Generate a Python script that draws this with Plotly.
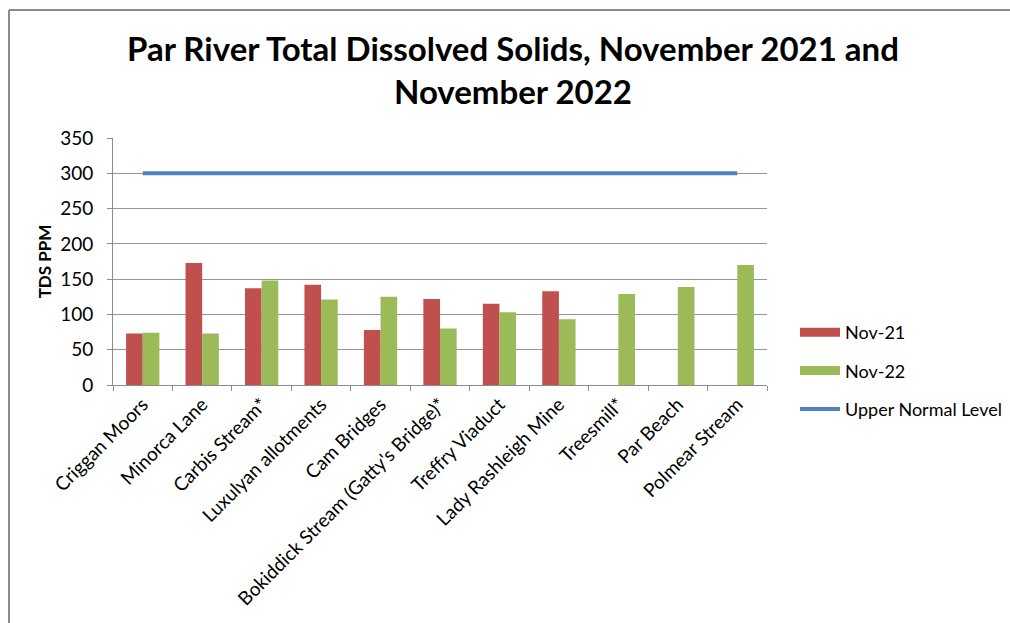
import plotly.graph_objects as go

sites = [
    "Criggan Moors", "Minorca Lane", "Carbis Stream*", "Luxulyan allotments",
    "Cam Bridges", "Bokiddick Stream (Gatty's Bridge)*", "Treffry Viaduct",
    "Lady Rashleigh Mine", "Treesmill*", "Par Beach", "Polmear Stream",
]
nov21 = [73, 173, 137, 142, 78, 122, 115, 133, None, None, None]
nov22 = [74, 73, 148, 121, 125, 80, 103, 93, 129, 139, 170]
upper_normal = [300] * len(sites)
y_ticks = [0, 50, 100, 150, 200, 250, 300, 350]

FONT = "Lato"
RED = "#C0504D"
GREEN = "#9BBB59"
BLUE = "#4F81BD"
AXIS_GREY = "#8c8c8c"

fig = go.Figure()
fig.add_trace(go.Bar(x=sites, y=nov21, name="Nov-21", marker_color=RED,
                     marker_line_width=0, showlegend=False))
fig.add_trace(go.Bar(x=sites, y=nov22, name="Nov-22", marker_color=GREEN,
                     marker_line_width=0, showlegend=False))
fig.add_trace(go.Scatter(x=sites, y=upper_normal, name="Upper Normal Level",
                         mode="lines", line=dict(color=BLUE, width=4),
                         legendgroup="c", legendrank=3))

# wide flat swatches for the bar series in the legend
for name, color, rank, grp in [("Nov-21", RED, 1, "a"), ("Nov-22", GREEN, 2, "b")]:
    fig.add_trace(go.Scatter(x=[None], y=[None], name=name, mode="lines",
                             line=dict(color=color, width=9),
                             legendgroup=grp, legendrank=rank, hoverinfo="skip"))

# plot area in pixels: left 113, right 767, top 138, bottom 385
L, R, T, B = 113, 767, 138, 385
W, H = 1010, 623
pw, ph = R - L, B - T

def px(xp):
    return (xp - L) / pw

def py(yp):
    return (B - yp) / ph

fig.update_layout(
    width=W, height=H,
    margin=dict(l=L, r=W - R, t=T, b=H - B, pad=0, autoexpand=False),
    paper_bgcolor="white", plot_bgcolor="white",
    barmode="group", bargap=0.44, bargroupgap=0,
    font=dict(family=FONT, size=16, color="#000000"),
    title=dict(
        text="Par River Total Dissolved Solids, November 2021 and<br>November 2022",
        font=dict(family=FONT, size=33, color="#000000", weight="bold"),
        x=513 / W, xanchor="center", xref="container",
        y=1 - 61 / H, yanchor="middle", yref="container",
    ),
    legend=dict(
        xref="container", yref="container",
        x=795 / W, xanchor="left", y=1 - 371 / H, yanchor="middle",
        traceorder="grouped", tracegroupgap=12,
        font=dict(family=FONT, size=18, color="#000000"),
        bgcolor="rgba(0,0,0,0)", itemwidth=40,
    ),
    showlegend=True,
    shapes=[
        dict(type="line", xref="paper", yref="paper",
             x0=px(9), x1=px(1012), y0=py(10), y1=py(10),
             line=dict(color="#8a8a8a", width=2)),
        dict(type="line", xref="paper", yref="paper",
             x0=px(9), x1=px(9), y0=py(10), y1=py(625),
             line=dict(color="#8a8a8a", width=2)),
    ],
)

fig.update_xaxes(
    type="category", tickangle=-45, showline=True, linecolor=AXIS_GREY,
    linewidth=1, ticks="outside", tickson="boundaries", ticklen=5,
    tickcolor=AXIS_GREY, showgrid=False, automargin=False,
    tickfont=dict(family=FONT, size=19, color="#000000"),
)
fig.update_yaxes(
    range=[0, 350], tickvals=y_ticks, showline=True, linecolor=AXIS_GREY,
    linewidth=1, ticks="outside", ticklen=5, tickcolor=AXIS_GREY,
    showgrid=True, gridcolor="#959595", gridwidth=1, zeroline=False,
    ticklabelstandoff=10, automargin=False,
    tickfont=dict(family=FONT, size=19, color="#000000"),
    title=dict(text="<b>TDS PPM</b>", font=dict(family=FONT, size=17, color="#000000"),
               standoff=4),
)

fig.write_html("out.html")
